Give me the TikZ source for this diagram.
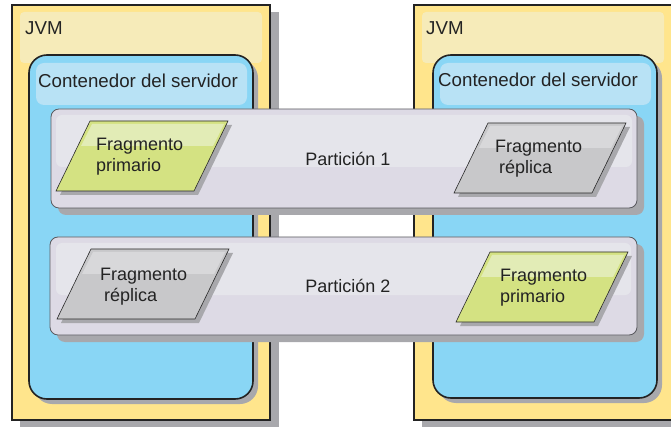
\documentclass[tikz,border=0pt]{standalone}
\usepackage{fontspec}
\setmainfont{Liberation Sans}
\usepackage{tikz}

\tikzset{
  sombra/.style={fill={rgb, 255:red, 168; green, 168; blue, 172}},
  jvm/.style={draw={rgb, 255:red, 35; green, 35; blue, 35}, line width=1.6pt, fill={rgb, 255:red, 255; green, 229; blue, 140}},
  jvm brillo/.style={fill={rgb, 255:red, 246; green, 235; blue, 185}, rounded corners=4pt},
  contenedor/.style={draw={rgb, 255:red, 35; green, 35; blue, 35}, line width=1.6pt, fill={rgb, 255:red, 137; green, 214; blue, 245}, rounded corners=18pt},
  contenedor brillo/.style={fill={rgb, 255:red, 184; green, 226; blue, 245}, rounded corners=8pt},
  particion/.style={draw={rgb, 255:red, 90; green, 90; blue, 95}, line width=0.8pt, fill={rgb, 255:red, 221; green, 218; blue, 229}, rounded corners=8pt},
  particion brillo/.style={fill={rgb, 255:red, 229; green, 229; blue, 235}, rounded corners=6pt},
  primario/.style={draw={rgb, 255:red, 40; green, 40; blue, 40}, line width=0.6pt, fill={rgb, 255:red, 212; green, 226; blue, 130}},
  primario brillo/.style={fill={rgb, 255:red, 226; green, 236; blue, 182}},
  replica/.style={draw={rgb, 255:red, 40; green, 40; blue, 40}, line width=0.6pt, fill={rgb, 255:red, 200; green, 200; blue, 202}},
  replica brillo/.style={fill={rgb, 255:red, 216; green, 216; blue, 218}},
  texto/.style={font=\fontsize{18}{21.6}\selectfont, text={rgb, 255:red, 35; green, 35; blue, 35}, inner sep=0pt, align=left},
  titulo/.style={texto, font=\fontsize{18.7}{22}\selectfont, anchor=base west}
}

\begin{document}
\begin{tikzpicture}[x=1pt,y=1pt,yscale=-1,xscale=1]
\useasboundingbox (0,0) rectangle (671,427);
\clip (0,0) rectangle (671,427);

%Shape: Rectangle [JVM izquierda]
\fill [sombra] (20,12) rectangle (279,427) ;
\draw [jvm] (12,5) rectangle (270,420) ;
\fill [jvm brillo] (20,12) rectangle (262,63) ;
\node [titulo] (jvm1) at (25,35) {JVM};
%Shape: Rectangle [JVM derecha]
\fill [sombra] (422,12) rectangle (690,427) ;
\draw [jvm] (414,5) rectangle (690,420) ;
\fill [jvm brillo] (422,12) rectangle (664,63) ;
\node [titulo] (jvm2) at (426,35) {JVM};

%Shape: Rounded Rect [contenedores]
\fill [sombra, rounded corners=18pt] (34,60) rectangle (258,404) ;
\draw [contenedor] (29,55) rectangle (253,399) ;
\fill [contenedor brillo] (36,63) rectangle (247,105) ;
\node [titulo] (cont1) at (38,88) {Contenedor del servidor};
\fill [sombra, rounded corners=18pt] (438,60) rectangle (662,403) ;
\draw [contenedor] (433,55) rectangle (657,398) ;
\fill [contenedor brillo] (440,63) rectangle (651,105) ;
\node [titulo] (cont2) at (438,87) {Contenedor del servidor};

%Shape: Rounded Rect [particiones]
\fill [sombra, rounded corners=8pt] (58,116) rectangle (644,215) ;
\draw [particion] (51,109) rectangle (637,208) ;
\fill [particion brillo] (56,115) rectangle (632,167) ;
\node [texto, anchor=base] (part1) at (348,166) {Partición 1};
\fill [sombra, rounded corners=8pt] (57,244) rectangle (644,342) ;
\draw [particion] (50,237) rectangle (637,335) ;
\fill [particion brillo] (56,243) rectangle (631,295) ;
\node [texto, anchor=base] (part2) at (348,292) {Partición 2};

%Shape: Polygon [fragmento primario, particion 1]
\fill [sombra] (94,125) -- (232,125) -- (198,195) -- (60,195) -- cycle ;
\draw [primario] (90,121) -- (228,121) -- (194,191) -- (56,191) -- cycle ;
\fill [primario brillo] (92,124) -- (224,124) -- (213,146) -- (81,146) -- cycle ;
\node [texto, anchor=west] (frag1) at (96,156.5) {Fragmento\\primario};
%Shape: Polygon [fragmento replica, particion 1]
\fill [sombra] (492,127) -- (630,127) -- (596,197) -- (458,197) -- cycle ;
\draw [replica] (488,123) -- (626,123) -- (592,193) -- (454,193) -- cycle ;
\fill [replica brillo] (490,126) -- (622,126) -- (611,148) -- (479,148) -- cycle ;
\node [texto, anchor=west] (frag2) at (495,158.5) {Fragmento\\\hspace{4pt}réplica};

%Shape: Polygon [fragmento replica, particion 2]
\fill [sombra] (95,253) -- (233,253) -- (199,323) -- (61,323) -- cycle ;
\draw [replica] (91,249) -- (229,249) -- (195,319) -- (57,319) -- cycle ;
\fill [replica brillo] (93,252) -- (225,252) -- (214,274) -- (82,274) -- cycle ;
\node [texto, anchor=west] (frag3) at (100,286.5) {Fragmento\\\hspace{4pt}réplica};
%Shape: Polygon [fragmento primario, particion 2]
\fill [sombra] (494,256) -- (632,256) -- (598,326) -- (460,326) -- cycle ;
\draw [primario] (490,252) -- (628,252) -- (594,322) -- (456,322) -- cycle ;
\fill [primario brillo] (492,255) -- (624,255) -- (613,277) -- (481,277) -- cycle ;
\node [texto, anchor=west] (frag4) at (500,287.5) {Fragmento\\primario};

\end{tikzpicture}
\end{document}
